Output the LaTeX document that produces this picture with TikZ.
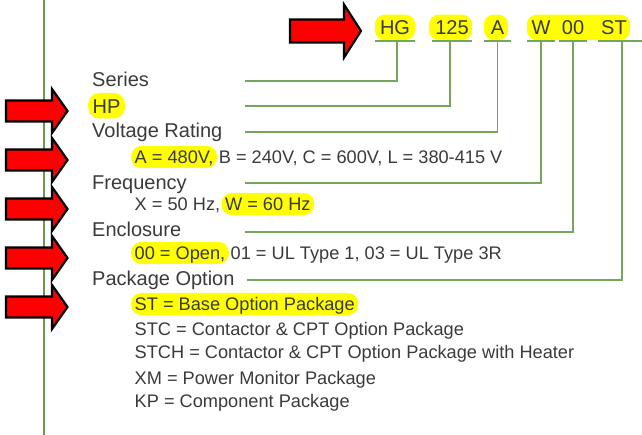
\documentclass[tikz,border=0pt]{standalone}
\usepackage{fontspec}
\setmainfont{Liberation Sans}
\usepackage{tikz}
\usetikzlibrary{positioning,backgrounds}
\definecolor{HLyellow}{HTML}{FFFF00}
\definecolor{RAred}{HTML}{FF0000}
\definecolor{RAgreen}{HTML}{74A65C}
\definecolor{RAgreenD}{HTML}{6A9B4C}
\definecolor{RAtext}{HTML}{3A3A3A}
\tikzset{
  head/.style={anchor=base west, inner sep=0pt, font=\fontsize{20}{24}\selectfont, text=RAtext},
  sub/.style={anchor=base west, inner sep=0pt, font=\fontsize{18.2}{22}\selectfont, text=RAtext},
  hl/.style={fill=HLyellow, rounded corners=10pt, inner xsep=3.5pt, inner ysep=1.5pt, text height=16.5pt, text depth=2.5pt},
  hlhead/.style={fill=HLyellow, rounded corners=11pt, inner xsep=4.5pt, inner ysep=1.5pt, text height=19.5pt, text depth=3pt},
  code/.style={anchor=south, inner sep=0pt, minimum height=26pt, text height=14.4pt, text depth=0pt, font=\fontsize{20}{24}\selectfont, text=RAtext},
  codehl/.style={fill=HLyellow, rounded corners=10pt},
  conn/.style={draw=RAgreen, line width=1.3pt},
  rail/.style={draw=RAgreenD, line width=2pt},
  redarrow/.style={fill=RAred, draw=black, line width=2.2pt, line join=miter}
}
\begin{document}
\begin{tikzpicture}[x=1pt, y=-1pt]
\useasboundingbox (0,0) rectangle (642,435);

% catalogue number
\node[code, minimum width=40pt] (hg) at (395,41) {HG};
\node[code, minimum width=40pt] (ampcode) at (452,41) {125};
\node[code, minimum width=27pt] (volt) at (497.5,41) {A};
\node[code, minimum width=28pt] (freq) at (541,41) {W};
\node[code, minimum width=28pt] (encl) at (573,41) {00};
\node[code, minimum width=32pt] (pack) at (614,41) {ST};
\begin{scope}[on background layer]
\fill[codehl] (hg.north west) rectangle ([yshift=1pt]hg.south east);
\fill[codehl] ([xshift=-3pt]ampcode.north west) rectangle ([yshift=1pt]ampcode.south east);
\fill[codehl] (volt.north west) rectangle ([xshift=-3pt,yshift=1pt]volt.south east);
\fill[codehl] (freq.north west) rectangle ([yshift=1pt]pack.south east);
\end{scope}
\foreach \c in {hg,ampcode,volt,freq,encl}
  \draw[conn] (\c.south west) -- (\c.south east);
\draw[conn] (pack.south west) -- ([xshift=12pt]pack.south east);

% legend
\node[head] (series) at (92,87) {Series};
\node[head, hlhead] (hp) at (88,114) {HP};
\node[head] (voltage) at (92,138) {Voltage Rating};
\node[sub, hl] (voltA) at (131,164) {A = 480V,};
\node[sub, base right=1.5pt of voltA] (voltB) {B = 240V, C = 600V, L = 380-415 V};
\node[head] (frequency) at (92,190) {Frequency};
\node[sub] (freqX) at (134.5,211) {X = 50 Hz,};
\node[sub, hl, base right=1pt of freqX] (freqW) {W = 60 Hz};
\node[head] (enclosure) at (92,237) {Enclosure};
\node[sub, hl] (enclO) at (131,260) {00 = Open,};
\node[sub, base right=1.5pt of enclO] (enclU) {01 = UL Type 1, 03 = UL Type 3R};
\node[head] (package) at (92,285.5) {Package Option};
\node[sub, hl] (packST) at (131,311) {ST = Base Option Package};
\node[sub] (packSTC) at (134.5,335) {STC = Contactor \& CPT Option Package};
\node[sub] (packSTCH) at (134.5,358.5) {STCH = Contactor \& CPT Option Package with Heater};
\node[sub] (packXM) at (134.5,384) {XM = Power Monitor Package};
\node[sub] (packKP) at (134.5,407) {KP = Component Package};

% connectors
\coordinate (series-end) at (245,81);
\coordinate (hp-end) at (245,106);
\coordinate (voltage-end) at (245,132);
\coordinate (frequency-end) at (245,183);
\coordinate (enclosure-end) at (245,232);
\coordinate (package-end) at (247,280);
\draw[conn] ([xshift=2pt]hg.south) |- (series-end);
\draw[conn] ([xshift=-2pt]ampcode.south) |- (hp-end);
\draw[conn] (volt.south) |- (voltage-end);
\draw[conn] (freq.south) |- (frequency-end);
\draw[conn] (encl.south) |- (enclosure-end);
\draw[conn] ([xshift=8pt]pack.south) |- (package-end);

% margin rule and arrows
\draw[rail] (44,0) -- (44,435);
\draw[redarrow] (290,19.5) -- (344,19.5) -- (344,4.5) -- (361,31) -- (344,57.5) -- (344,42.5) -- (290,42.5) -- cycle;
\foreach \ty in {111,160,209,258,307}
  \draw[redarrow] (6,{\ty-10.5}) -- (52,{\ty-10.5}) -- (52,{\ty-22}) -- (67.5,\ty) -- (52,{\ty+22}) -- (52,{\ty+10.5}) -- (6,{\ty+10.5}) -- cycle;
\end{tikzpicture}
\end{document}
